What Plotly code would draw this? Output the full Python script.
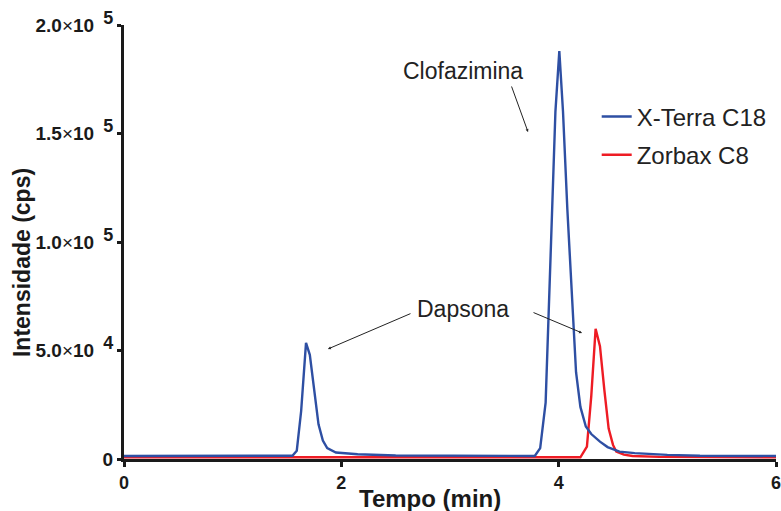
import plotly.graph_objects as go

# X-Terra C18 (blue)
t_xterra = [0, 1.50, 1.55, 1.59, 1.63, 1.675, 1.71, 1.75, 1.79, 1.83, 1.87, 1.95, 2.15, 2.5, 3.0,
            3.5, 3.78, 3.83, 3.88, 3.93, 3.97, 4.006, 4.04, 4.08, 4.12, 4.16, 4.2, 4.25, 4.3,
            4.38, 4.45, 4.56, 4.7, 4.84, 5.0, 5.3, 6.0]
v_xterra = [1400, 1400, 1500, 3800, 22000, 53500, 48000, 32000, 16000, 8500, 5000, 3000, 2200, 1600, 1400,
            1400, 1400, 5000, 26000, 100000, 160000, 188000, 160000, 115000, 75000, 40000, 24000, 15000, 11500,
            8000, 5500, 3400, 2700, 2200, 1900, 1500, 1400]

# Zorbax C8 (red)
t_zorbax = [0, 4.2, 4.26, 4.30, 4.34, 4.38, 4.42, 4.46, 4.50, 4.53, 4.6, 4.68, 4.93, 6.0]
v_zorbax = [800, 800, 5700, 29000, 60000, 52000, 32000, 14000, 6500, 3400, 2000, 1400, 1000, 800]

y_tickvals = [0, 50000, 100000, 150000, 200000]
y_mantissa = ["5.0", "1.0", "1.5", "2.0"]
y_exponent = ["4", "5", "5", "5"]
x_tickvals = [0, 2, 4, 6]

FONT = "Arial, Liberation Sans, Helvetica, sans-serif"
TXT = "#222222"
AX = "#1a1a1a"


def sci_label(m, e):
    return (f"<b>{m}</b><span style='font-weight:normal'>×</span><b>10</b>"
            f"<sup><span style='font-size:18px'>\u2002<b>{e}</b></span></sup>")


y_ticktext = ["<b>0</b>"] + [sci_label(m, e) for m, e in zip(y_mantissa, y_exponent)]

fig = go.Figure()
fig.add_trace(go.Scatter(x=t_zorbax, y=v_zorbax, mode="lines", name="Zorbax C8",
                         line=dict(color="#EE1C24", width=2.4), legendrank=2, legendgroup="b"))
fig.add_trace(go.Scatter(x=t_xterra, y=v_xterra, mode="lines", name="X-Terra C18",
                         line=dict(color="#2E4FA3", width=2.4), legendrank=1, legendgroup="a"))

arrow = dict(showarrow=True, arrowhead=2, arrowsize=0.6, arrowwidth=1, arrowcolor=TXT,
             text="", xref="x", yref="y")
annotations = [
    dict(x=3.718, y=150700, ax=-17, ay=-47, **arrow),
    dict(x=1.877, y=50700, ax=84, ay=-36, **arrow),
    dict(x=4.215, y=58100, ax=-50, ay=-21, **arrow),
    dict(x=3.12, y=179000, text="Clofazimina", showarrow=False, xref="x", yref="y",
         font=dict(family=FONT, size=23, color=TXT)),
    dict(x=3.12, y=69000, text="Dapsona", showarrow=False, xref="x", yref="y",
         font=dict(family=FONT, size=23, color=TXT)),
    # axis titles
    dict(x=-0.1564, y=0.4516, xref="paper", yref="paper", xanchor="center", yanchor="middle",
         text="<b>Intensidade (cps)</b>", textangle=-90, showarrow=False,
         font=dict(family=FONT, size=23, color=AX)),
    dict(x=0.469, y=-0.0899, xref="paper", yref="paper", xanchor="center", yanchor="middle",
         text="<b>Tempo (min)</b>", showarrow=False,
         font=dict(family=FONT, size=24, color=AX)),
]

fig.update_layout(
    width=781, height=511,
    margin=dict(l=124, r=5, t=25, b=52),
    plot_bgcolor="white", paper_bgcolor="white",
    font=dict(family=FONT, color=TXT),
    showlegend=True,
    legend=dict(x=0.725, y=0.84, xanchor="left", yanchor="top", bgcolor="rgba(0,0,0,0)",
                font=dict(family=FONT, size=24, color=TXT), tracegroupgap=4,
                traceorder="grouped"),
    annotations=annotations,
    xaxis=dict(range=[0, 6], tickvals=x_tickvals, showgrid=False, zeroline=False, automargin=False,
               showline=True, linecolor=AX, linewidth=3, ticklabeloverflow="allow",
               ticks="outside", ticklen=5, tickwidth=3, tickcolor=AX,
               tickfont=dict(family=FONT, size=18, color=AX, weight="bold")),
    yaxis=dict(range=[0, 200000], tickvals=y_tickvals, ticktext=y_ticktext, showgrid=False,
               zeroline=False, automargin=False, showline=True, linecolor=AX, linewidth=3,
               ticks="outside", ticklen=4, tickwidth=3, tickcolor=AX,
               tickfont=dict(family=FONT, size=19, color=AX, weight="bold")),
)

fig.write_html("out.html")
